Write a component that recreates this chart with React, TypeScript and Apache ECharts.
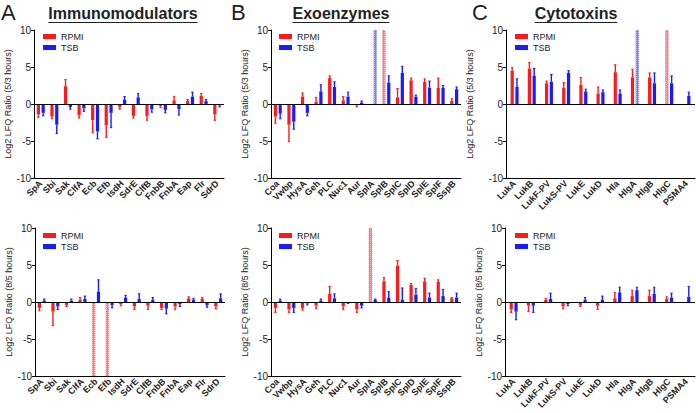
import React, { useEffect, useRef } from "react";
import * as echarts from "echarts";

// ---------- categories ----------
const immunoCats = ["SpA", "Sbi", "Sak", "ClfA", "Ecb", "Efb", "IsdH", "SdrE", "ClfB", "FnbB", "FnbA", "Eap", "Flr", "SdrD"];
const exoCats = ["Coa", "Vwbp", "HysA", "Geh", "PLC", "Nuc1", "Aur", "SplA", "SplB", "SplC", "SplD", "SplE", "SplF", "SspB"];
const cytoCats = ["LukA", "LukB", "LukF-PV", "LukS-PV", "LukE", "LukD", "Hla", "HlgA", "HlgB", "HlgC", "PSMA4"];

// ---------- Immunomodulators, 5/3 hours ----------
const immuno53RpmiMean = [-1.4, -1.7, 2.4, -1.5, -2.2, -2.9, -0.4, -1.6, -1.6, -0.3, 0.5, 0.4, 1.1, -1.4];
const immuno53RpmiTip = [-1.8, -2.0, 3.3, -1.9, -3.9, -4.5, -0.7, -1.9, -2.2, -0.5, 1.0, 0.6, 1.4, -2.2];
const immuno53TsbMean = [-1.2, -2.8, -0.4, -0.6, -3.7, -1.2, 0.6, 0.9, -0.7, -0.8, -0.7, 1.0, 0.4, -0.2];
const immuno53TsbTip = [-1.6, -4.0, -0.7, -1.0, -4.7, -3.2, 1.0, 1.4, -1.1, -1.2, -1.5, 1.6, 0.6, -0.4];
const immuno53OffScale: [string, string, number][] = [];

// ---------- Immunomodulators, 8/5 hours ----------
const immuno85RpmiMean = [-0.8, -1.3, -0.4, 0.3, null, null, -0.3, -0.6, -0.5, -0.8, -0.6, 0.5, 0.4, -0.6];
const immuno85RpmiTip = [-1.2, -3.2, -0.6, 0.6, null, null, -0.5, -1.0, -1.0, -1.0, -1.0, 0.7, 0.6, -0.9];
const immuno85TsbMean = [0.2, -0.6, 0.2, 0.4, 1.4, -0.4, 0.6, 0.4, 0.3, -0.9, -0.3, 0.3, -0.4, 0.5];
const immuno85TsbTip = [0.4, -1.0, 0.4, 0.8, 3.0, -0.8, 0.9, 1.1, 0.6, -1.6, -0.6, 0.5, -0.7, 1.1];
const immuno85OffScale: [string, string, number][] = [["RPMI", "Ecb", -10], ["RPMI", "Efb", -10]];

// ---------- Exoenzymes, 5/3 hours ----------
const exo53RpmiMean = [-1.7, -2.8, 1.0, 0.3, 3.5, 0.5, -0.2, null, null, 0.9, 3.2, 3.0, 2.2, 0.4];
const exo53RpmiTip = [-2.6, -5.1, 1.5, 0.9, 3.8, 1.0, -0.4, null, null, 2.1, 3.5, 3.4, 3.5, 0.7];
const exo53TsbMean = [-1.3, -2.4, -1.2, 1.7, 2.3, 1.0, 0.2, null, 2.9, 4.2, 1.0, 2.2, 2.2, 2.0];
const exo53TsbTip = [-2.0, -3.4, -1.6, 2.6, 3.0, 1.6, 0.4, null, 3.8, 5.1, 1.2, 3.1, 2.5, 2.3];
const exo53OffScale: [string, string, number][] = [["TSB", "SplA", 10], ["RPMI", "SplB", 10]];

// ---------- Exoenzymes, 8/5 hours ----------
const exo85RpmiMean = [-0.8, -1.0, -0.8, -0.5, 1.1, -0.6, -1.0, null, 2.8, 4.9, 2.3, 2.8, 2.7, 0.5];
const exo85RpmiTip = [-1.4, -1.4, -1.1, -0.9, 2.1, -1.0, -1.4, null, 3.3, 5.6, 2.5, 3.2, 3.0, 0.6];
const exo85TsbMean = [0.2, -0.8, -0.2, 0.2, 0.5, -0.1, -0.5, 0.3, 0.6, 0.3, 1.0, 0.6, 0.8, 0.6];
const exo85TsbTip = [0.4, -1.4, -0.4, 0.4, 1.1, -0.2, -0.8, 0.4, 1.4, 1.9, 1.8, 1.2, 1.7, 1.2];
const exo85OffScale: [string, string, number][] = [["RPMI", "SplA", 10]];

// ---------- Cytotoxins, 5/3 hours ----------
const cyto53RpmiMean = [4.5, 4.8, 2.8, 2.2, 2.6, 1.4, 4.3, 3.6, 3.6, null, null];
const cyto53RpmiTip = [4.9, 5.6, 3.1, 2.9, 3.6, 2.3, 5.3, 4.7, 4.2, null, null];
const cyto53TsbMean = [2.3, 3.8, 3.0, 4.2, 1.7, 1.6, 1.4, null, 2.8, 2.8, 1.1];
const cyto53TsbTip = [3.4, 4.8, 4.0, 4.5, 2.0, 1.9, 1.9, null, 4.2, 3.8, 1.6];
const cyto53OffScale: [string, string, number][] = [["TSB", "HlgA", 10], ["RPMI", "HlgC", 10]];

// ---------- Cytotoxins, 8/5 hours ----------
const cyto85RpmiMean = [-1.0, -0.5, 0.3, -0.6, -0.4, -0.5, 0.5, 0.8, 0.8, 0.4, null];
const cyto85RpmiTip = [-1.4, -1.3, 0.5, -0.9, -0.6, -1.0, 1.3, 1.6, 1.6, 0.7, null];
const cyto85TsbMean = [-1.3, -0.5, 0.4, -0.3, 0.3, 0.3, 1.3, 1.6, 1.1, 0.6, 0.7];
const cyto85TsbTip = [-2.4, -1.4, 1.2, -0.5, 0.6, 0.8, 2.0, 2.0, 2.0, 1.2, 2.1];
const cyto85OffScale: [string, string, number][] = [];

const RED = "#ff1a1a";
const BLUE = "#1a1aff";
const FONT = '"Liberation Sans", Arial, Helvetica, sans-serif';

const panels = [
  { cats: immunoCats, rm: immuno53RpmiMean, rt: immuno53RpmiTip, tm: immuno53TsbMean, tt: immuno53TsbTip, off: immuno53OffScale,
    grid: { left: 34, top: 30, width: 190, height: 148 }, yName: "Log2 LFQ Ratio (5/3 hours)", nameGap: 16, lg: [38, 27] },
  { cats: exoCats, rm: exo53RpmiMean, rt: exo53RpmiTip, tm: exo53TsbMean, tt: exo53TsbTip, off: exo53OffScale,
    grid: { left: 271, top: 30, width: 190, height: 148 }, yName: "Log2 LFQ Ratio (5/3 hours)", nameGap: 22, lg: [274, 27] },
  { cats: cytoCats, rm: cyto53RpmiMean, rt: cyto53RpmiTip, tm: cyto53TsbMean, tt: cyto53TsbTip, off: cyto53OffScale,
    grid: { left: 506, top: 30, width: 189, height: 148 }, yName: "Log2 LFQ Ratio (5/3 hours)", nameGap: 32, lg: [510, 27] },
  { cats: immunoCats, rm: immuno85RpmiMean, rt: immuno85RpmiTip, tm: immuno85TsbMean, tt: immuno85TsbTip, off: immuno85OffScale,
    grid: { left: 35, top: 228, width: 190, height: 148 }, yName: "Log2 LFQ Ratio (8/5 hours)", nameGap: 17, lg: [38, 226] },
  { cats: exoCats, rm: exo85RpmiMean, rt: exo85RpmiTip, tm: exo85TsbMean, tt: exo85TsbTip, off: exo85OffScale,
    grid: { left: 271, top: 228, width: 190, height: 148 }, yName: "Log2 LFQ Ratio (8/5 hours)", nameGap: 22, lg: [274, 226] },
  { cats: cytoCats, rm: cyto85RpmiMean, rt: cyto85RpmiTip, tm: cyto85TsbMean, tt: cyto85TsbTip, off: cyto85OffScale,
    grid: { left: 505, top: 228, width: 190, height: 148 }, yName: "Log2 LFQ Ratio (8/5 hours)", nameGap: 20, lg: [510, 226] },
];

const titles = [
  { text: "Immunomodulators", x: 123 },
  { text: "Exoenzymes", x: 341 },
  { text: "Cytotoxins", x: 576 },
];
const letters = [
  { text: "A", x: 1 },
  { text: "B", x: 231 },
  { text: "C", x: 472 },
];

function measure(text: string, font: string) {
  const c = document.createElement("canvas").getContext("2d");
  if (!c) return text.length * 9;
  c.font = font;
  return c.measureText(text).width;
}

function hatchStyle(series: string) {
  return {
    color: series === "RPMI" ? "rgba(255,60,80,0.7)" : "rgba(70,70,255,0.7)",
    decal: {
      symbol: "rect",
      symbolSize: 1,
      color: "rgba(255,255,255,0.5)",
      dashArrayX: [1, 1],
      dashArrayY: [1, 1],
      rotation: 0,
    },
  };
}

export default function App() {
  const ref = useRef<HTMLDivElement>(null);
  useEffect(() => {
    if (!ref.current) return;
    const chart = echarts.init(ref.current, undefined, { renderer: "svg" });

    const grid: any[] = [];
    const xAxis: any[] = [];
    const yAxis: any[] = [];
    const legend: any[] = [];
    const series: any[] = [];

    panels.forEach((p, i) => {
      grid.push({ ...p.grid });
      xAxis.push({
        type: "category",
        gridIndex: i,
        data: p.cats,
        position: "bottom",
        axisLine: { onZero: false, lineStyle: { color: "#000", width: 1 } },
        axisTick: { alignWithLabel: true, length: 3, lineStyle: { color: "#000" } },
        axisLabel: { interval: 0, rotate: 45, fontSize: 9, fontWeight: "bold", color: "#222", margin: 4, fontFamily: FONT },
        splitLine: { show: false },
      });
      yAxis.push({
        type: "value",
        gridIndex: i,
        min: -10,
        max: 10,
        interval: 5,
        axisLine: { show: true, lineStyle: { color: "#000", width: 1 } },
        axisTick: { show: true, length: 3, lineStyle: { color: "#000" } },
        axisLabel: { fontSize: 10, color: "#222", margin: 3, fontFamily: FONT },
        splitLine: { show: false },
        name: p.yName,
        nameLocation: "middle",
        nameGap: p.nameGap,
        nameTextStyle: { fontSize: 9, color: "#222", fontFamily: FONT },
      });
      legend.push({
        data: ["RPMI", "TSB"],
        orient: "vertical",
        left: p.lg[0],
        top: p.lg[1],
        icon: "rect",
        itemWidth: 13,
        itemHeight: 5,
        itemGap: 2,
        selectedMode: false,
        textStyle: { fontSize: 9, color: "#222", fontFamily: FONT },
      });

      const mkBar = (name: string, means: (number | null)[]) =>
        p.cats.map((c, j) => {
          const o = p.off.find((e) => e[0] === name && e[1] === c);
          if (o) return { value: o[2], itemStyle: hatchStyle(name) };
          return means[j] === null ? "-" : means[j];
        });

      series.push({
        name: "RPMI",
        type: "bar",
        xAxisIndex: i,
        yAxisIndex: i,
        barWidth: 3.2,
        barGap: "50%",
        itemStyle: { color: RED },
        data: mkBar("RPMI", p.rm),
        markLine: {
          silent: true,
          symbol: ["none", "none"],
          label: { show: false },
          lineStyle: { color: "#000", width: 1, type: "solid" },
          data: [{ yAxis: 0 }],
        },
      });
      series.push({
        name: "TSB",
        type: "bar",
        xAxisIndex: i,
        yAxisIndex: i,
        barWidth: 3.2,
        barGap: "50%",
        itemStyle: { color: BLUE },
        data: mkBar("TSB", p.tm),
      });

      const errData: number[][] = [];
      p.cats.forEach((_, j) => {
        if (p.rm[j] !== null && p.rt[j] !== null) errData.push([j, p.rm[j] as number, p.rt[j] as number, -1]);
        if (p.tm[j] !== null && p.tt[j] !== null) errData.push([j, p.tm[j] as number, p.tt[j] as number, 1]);
      });
      series.push({
        type: "custom",
        xAxisIndex: i,
        yAxisIndex: i,
        silent: true,
        z: 3,
        encode: { x: 0, y: 1 },
        data: errData,
        renderItem: (params: any, api: any) => {
          const c = api.value(0);
          const m = api.value(1);
          const t = api.value(2);
          const s = api.value(3);
          const a = api.coord([c, m]);
          const b = api.coord([c, t]);
          const x = a[0] + s * 2.4;
          const col = s < 0 ? RED : BLUE;
          return {
            type: "group",
            children: [
              { type: "line", shape: { x1: x, y1: a[1], x2: x, y2: b[1] }, style: { stroke: col, lineWidth: 1.4 } },
              { type: "line", shape: { x1: x - 1.2, y1: b[1], x2: x + 1.2, y2: b[1] }, style: { stroke: col, lineWidth: 1 } },
            ],
          };
        },
      });
    });

    const titleFont = `bold 16px ${FONT}`;
    const graphic: any[] = [];
    titles.forEach((t) => {
      const w = measure(t.text, titleFont);
      graphic.push({
        type: "text",
        x: t.x,
        y: 13.5,
        style: { text: t.text, font: titleFont, fill: "#222", textAlign: "center", textVerticalAlign: "middle" },
      });
      graphic.push({
        type: "line",
        shape: { x1: t.x - w / 2, y1: 22.5, x2: t.x + w / 2, y2: 22.5 },
        style: { stroke: "#222", lineWidth: 1.2 },
      });
    });
    letters.forEach((l) => {
      graphic.push({
        type: "text",
        x: l.x,
        y: 12,
        style: { text: l.text, font: `normal 22px ${FONT}`, fill: "#222", textAlign: "left", textVerticalAlign: "middle" },
      });
    });

    chart.setOption({
      animation: false,
      backgroundColor: "#fff",
      textStyle: { fontFamily: FONT },
      grid,
      xAxis,
      yAxis,
      legend,
      series,
      graphic,
    });
    return () => chart.dispose();
  }, []);

  return <div ref={ref} style={{ position: "absolute", left: 0, top: 0, width: 696, height: 413, background: "#fff" }} />;
}
